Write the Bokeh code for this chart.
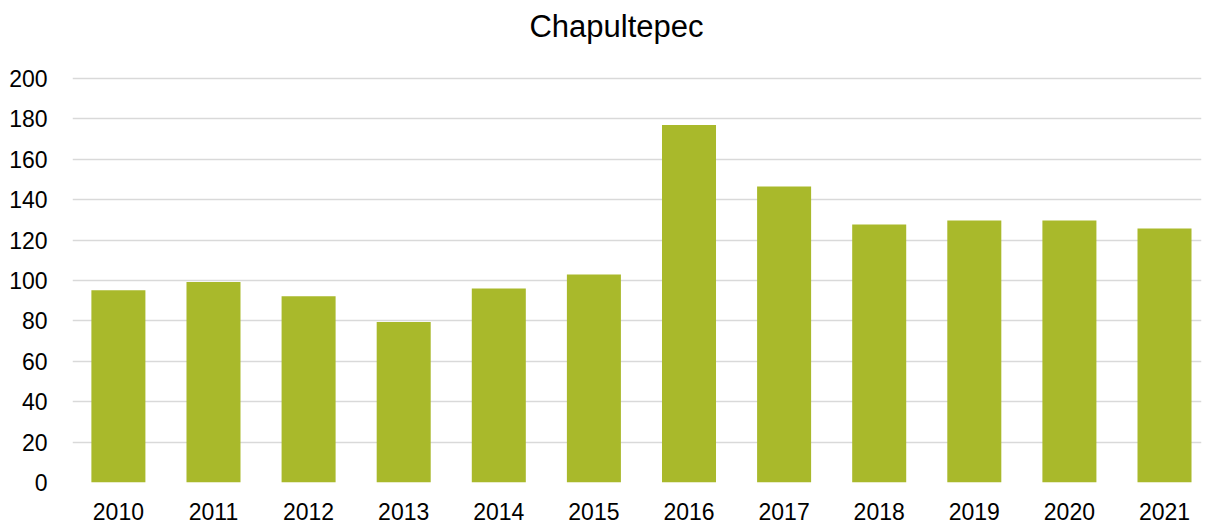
from bokeh.plotting import figure
from bokeh.models import Range1d, FixedTicker, ColumnDataSource, Label
from bokeh.embed import file_html
from bokeh.resources import INLINE

title_text = "Chapultepec"
years = ["2010", "2011", "2012", "2013", "2014", "2015",
         "2016", "2017", "2018", "2019", "2020", "2021"]
values = [95.2, 99.2, 92.2, 79.4, 96.0, 103.0, 177.0, 146.5, 127.7, 129.7, 129.7, 125.7]
y_ticks = [0, 20, 40, 60, 80, 100, 120, 140, 160, 180, 200]

# layout (pixels)
W, H = 1211, 525
bottom_px = 43
axis_top_px = 78            # where the 200 gridline sits
frame_h = H - bottom_px     # frame extends to the canvas top (room for the title)
y_max = max(y_ticks)
y_end = y_max * frame_h / (frame_h - axis_top_px)

idx = list(range(len(years)))
src = ColumnDataSource(dict(x=idx, top=values, year=years))

p = figure(width=W, height=H, output_backend="svg", toolbar_location=None,
           x_range=Range1d(-0.4826, 11.389), y_range=Range1d(0, y_end),
           min_border_left=72, min_border_right=10, min_border_top=0,
           min_border_bottom=bottom_px)
p.background_fill_color = "white"
p.border_fill_color = "white"
p.outline_line_color = None

p.vbar(x="x", top="top", bottom=0, width=0.568, source=src,
       fill_color="#A9B92B", line_color=None)

p.add_layout(Label(text=title_text, x=544, y=frame_h - 26,
                   x_units="screen", y_units="screen",
                   text_align="center", text_baseline="alphabetic",
                   text_font="Liberation Sans", text_font_size="31px",
                   text_color="#000000"))

p.xgrid.grid_line_color = None
p.ygrid.grid_line_color = "#D9D9D9"
p.ygrid.grid_line_width = 1.5

p.xaxis.ticker = FixedTicker(ticks=idx)
p.xaxis.major_label_overrides = {i: y for i, y in zip(idx, years)}
p.yaxis.ticker = FixedTicker(ticks=y_ticks)

for ax in (p.xaxis, p.yaxis):
    ax.axis_line_color = None
    ax.major_tick_line_color = None
    ax.minor_tick_line_color = None
    ax.major_tick_in = 0
    ax.major_tick_out = 0
    ax.minor_tick_in = 0
    ax.minor_tick_out = 0
    ax.major_label_text_font = "Liberation Sans"
    ax.major_label_text_font_size = "23px"
    ax.major_label_text_color = "#000000"

p.yaxis.major_label_standoff = 25
p.xaxis.major_label_standoff = 20

open("out.html", "w").write(file_html(p, INLINE))
